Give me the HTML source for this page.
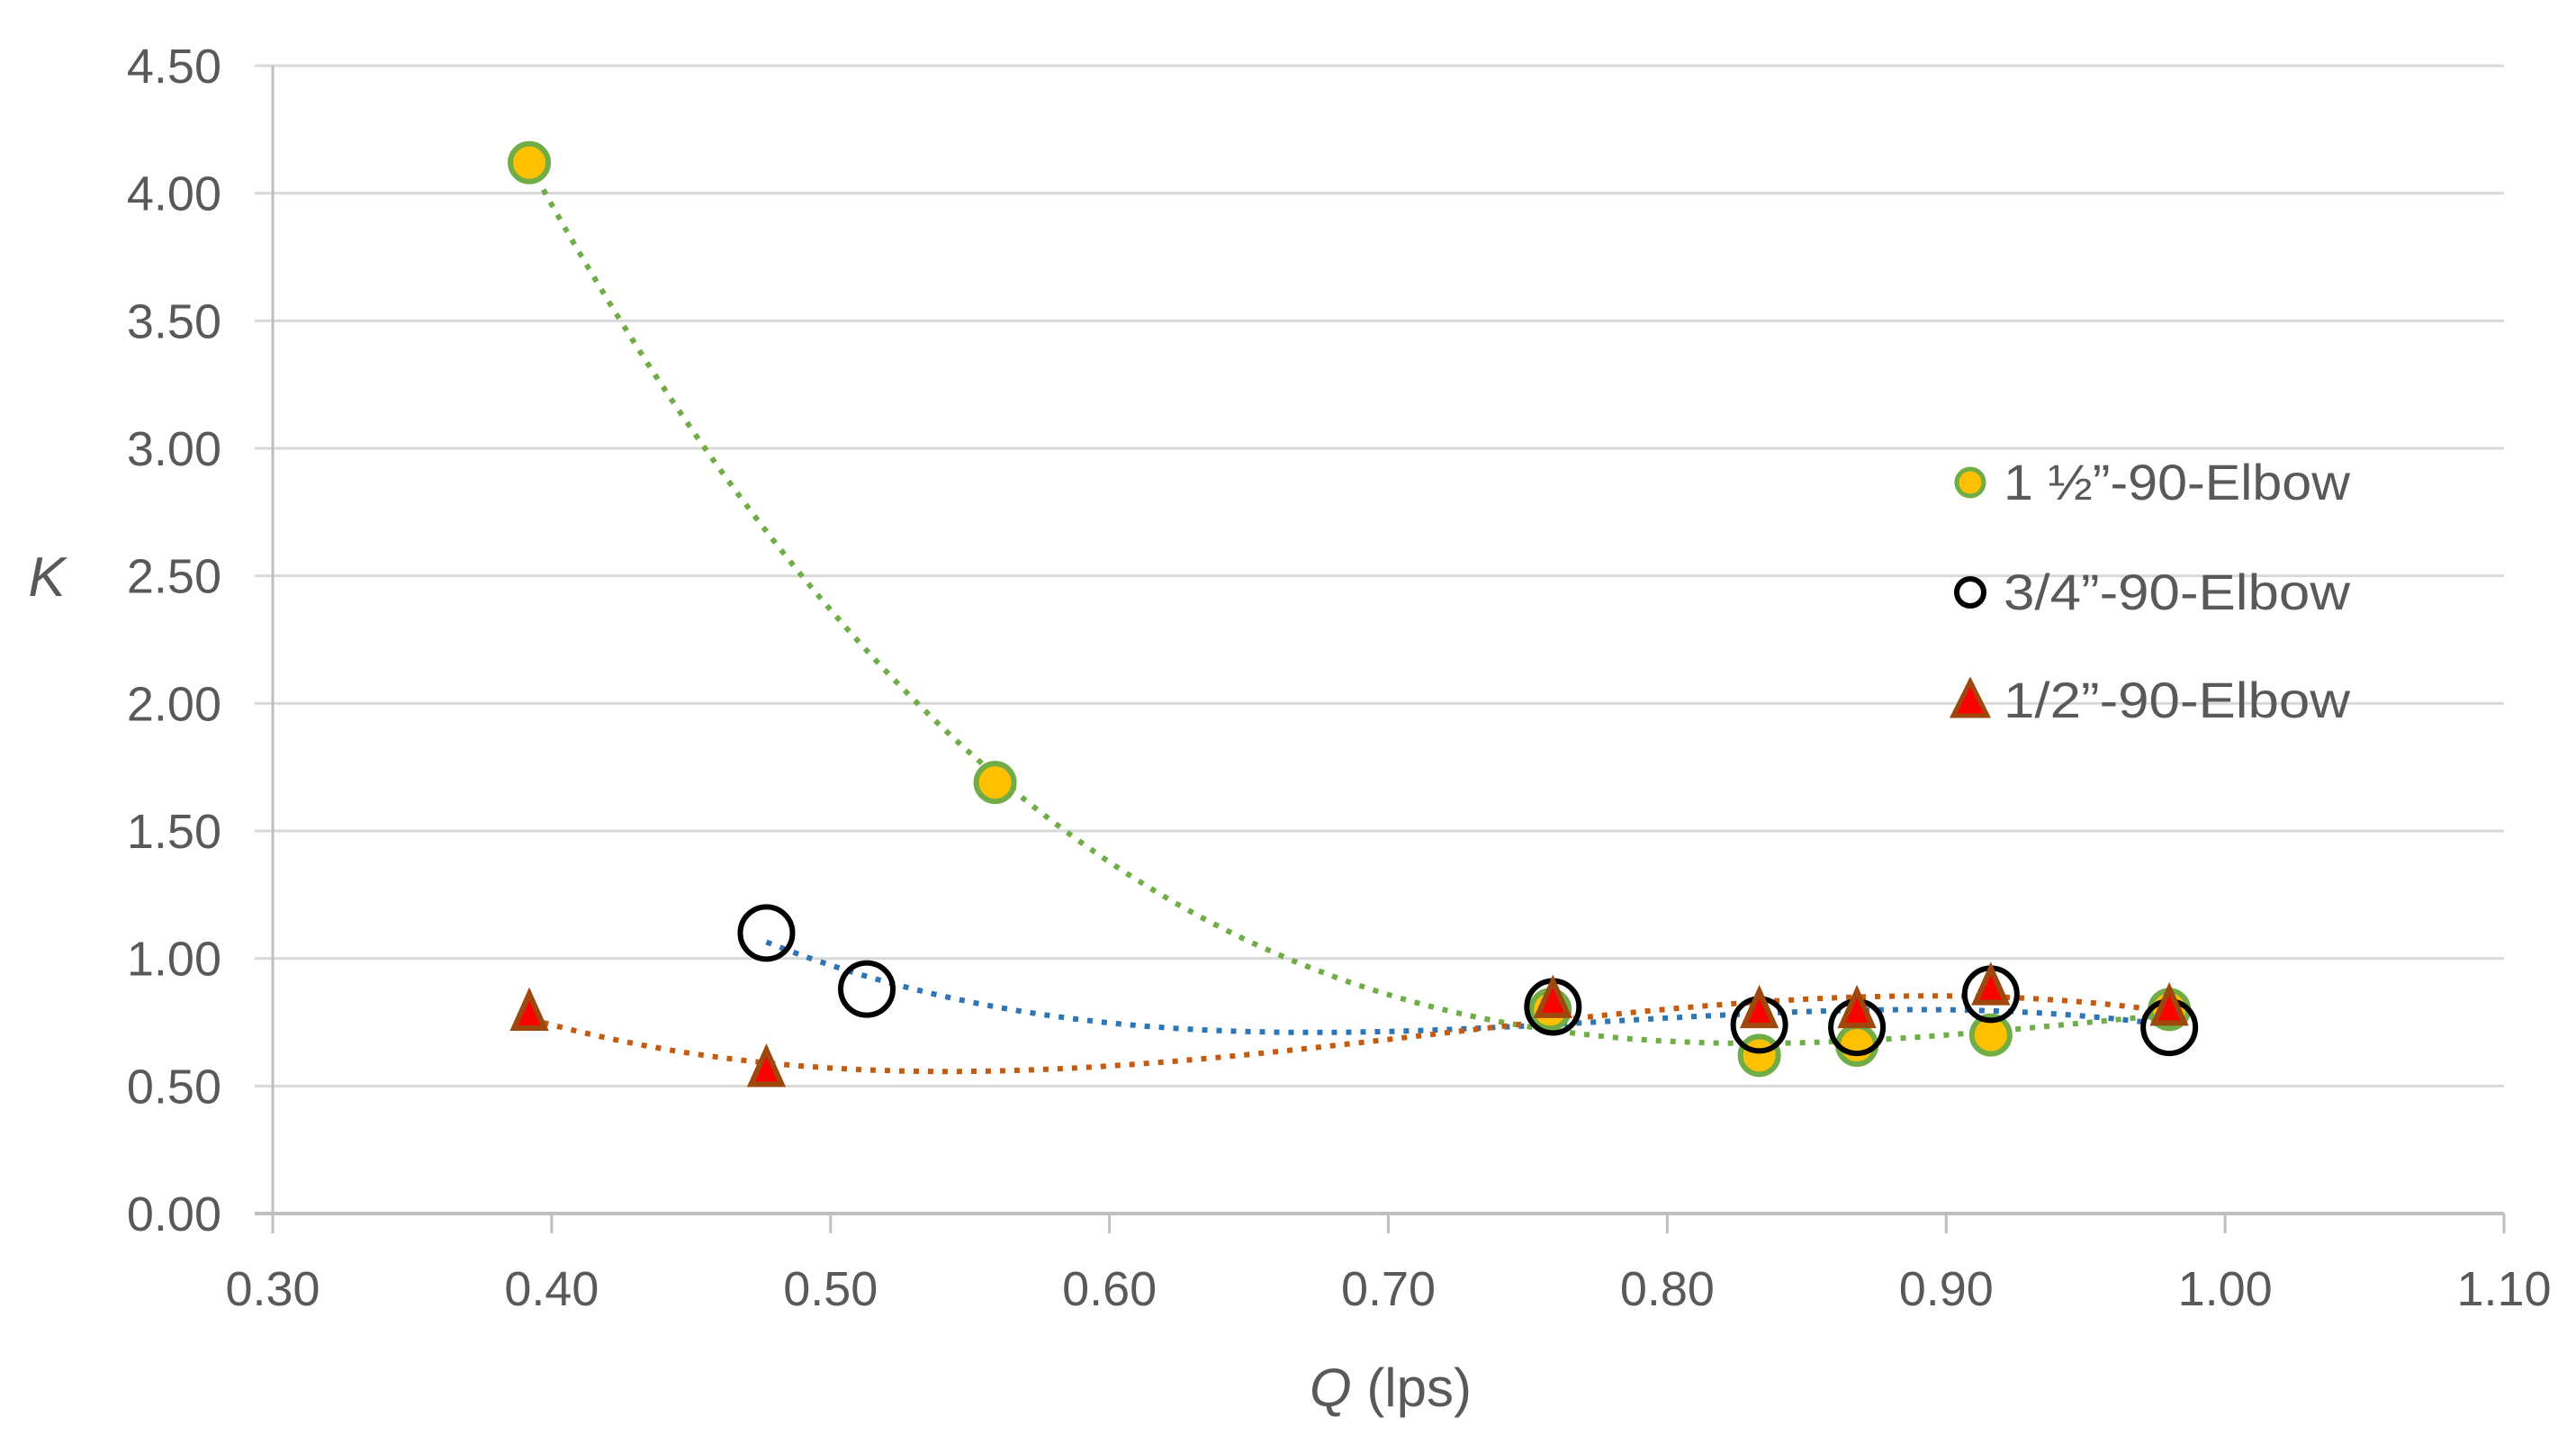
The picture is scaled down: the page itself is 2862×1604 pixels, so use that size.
<!DOCTYPE html>
<html><head><meta charset="utf-8"><style>
html,body{margin:0;padding:0;background:#fff;}
svg{display:block;font-family:"Liberation Sans",sans-serif;}
</style></head><body>
<svg id="chart" width="2862" height="1604" viewBox="0 0 2862 1604">
<g id="grid"></g>
<g id="axes"></g>
<g id="trends"></g>
<g id="marks"></g>
<text x="52" y="662" font-size="62" font-style="italic" fill="#595959" text-anchor="middle">K</text>
<text x="1545" y="1562" font-size="60" fill="#595959" text-anchor="middle"><tspan font-style="italic">Q</tspan> (lps)</text>
<g>
<g>
<circle cx="2189" cy="536" r="15" fill="#FFC000" stroke="#70AD47" stroke-width="5"/>
<text x="2226" y="555" font-size="56" fill="#595959" textLength="385" lengthAdjust="spacingAndGlyphs">1 ½”-90-Elbow</text></g>
<g>
<circle cx="2189" cy="658" r="15" fill="none" stroke="#000" stroke-width="6"/>
<text x="2226" y="677" font-size="56" fill="#595959" textLength="385" lengthAdjust="spacingAndGlyphs">3/4”-90-Elbow</text></g>
<g>
<polygon points="2189,757 2208,795 2170,795" fill="#FF0000" stroke="#9E480E" stroke-width="5" stroke-linejoin="miter"/>
<text x="2226" y="797" font-size="56" fill="#595959" textLength="385" lengthAdjust="spacingAndGlyphs">1/2”-90-Elbow</text></g>
</g>
</svg>
<script>
const xTicks=[0.30,0.40,0.50,0.60,0.70,0.80,0.90,1.00,1.10];
const yTicks=[0,0.5,1,1.5,2,2.5,3,3.5,4,4.5];
const qGreen=[0.392,0.559,0.758,0.833,0.868,0.916,0.980];
const kGreen=[4.12,1.69,0.80,0.62,0.66,0.70,0.80];
const qBlack=[0.477,0.513,0.759,0.833,0.868,0.916,0.980];
const kBlack=[1.10,0.88,0.81,0.74,0.73,0.86,0.73];
const qRed=[0.392,0.477,0.759,0.833,0.868,0.916,0.980];
const kRed=[0.78,0.56,0.83,0.79,0.79,0.88,0.80];
const NS="http://www.w3.org/2000/svg";
const X0=303,X1=2782,Y0=1348,Y1=73;
function xs(v){return X0+(v-0.3)/(1.1-0.3)*(X1-X0);}
function ys(v){return Y0-(v/4.5)*(Y0-Y1);}
function mk(tag,attrs,parent){const e=document.createElementNS(NS,tag);for(const k in attrs)e.setAttribute(k,attrs[k]);parent.appendChild(e);return e;}
const grid=document.getElementById('grid'),axes=document.getElementById('axes'),trends=document.getElementById('trends'),marks=document.getElementById('marks');
yTicks.forEach(t=>{
  if(t>0){const l=mk('line',{x1:X0-20,x2:X1,y1:ys(t),y2:ys(t),stroke:'#D9D9D9','stroke-width':3},grid);
  
  }
  const tx=mk('text',{x:246,y:ys(t)+19,'font-size':54,fill:'#595959','text-anchor':'end'},axes);
  tx.textContent=t.toFixed(2);
  
  
});
let a=mk('line',{x1:X0,x2:X0,y1:Y1,y2:Y0+22,stroke:'#BFBFBF','stroke-width':3},axes);


a=mk('line',{x1:X0-20,x2:X1,y1:Y0,y2:Y0,stroke:'#BFBFBF','stroke-width':4},axes);


xTicks.forEach(t=>{
  const l=mk('line',{x1:xs(t),x2:xs(t),y1:Y0,y2:Y0+22,stroke:'#BFBFBF','stroke-width':3},axes);
  
  
  const tx=mk('text',{x:xs(t),y:1450,'font-size':54,fill:'#595959','text-anchor':'middle'},axes);
  tx.textContent=t.toFixed(2);
  
  
});
function polyfit(xv,yv,deg){
  const n=deg+1,A=[],B=[];
  for(let i=0;i<n;i++){A.push(new Array(n).fill(0));B.push(0);}
  xv.forEach((x,k)=>{for(let i=0;i<n;i++){B[i]+=yv[k]*Math.pow(x,i);for(let j=0;j<n;j++)A[i][j]+=Math.pow(x,i+j);}});
  for(let i=0;i<n;i++){let p=i;for(let r=i+1;r<n;r++)if(Math.abs(A[r][i])>Math.abs(A[p][i]))p=r;
    [A[i],A[p]]=[A[p],A[i]];[B[i],B[p]]=[B[p],B[i]];
    for(let r=0;r<n;r++){if(r===i)continue;const f=A[r][i]/A[i][i];for(let c=i;c<n;c++)A[r][c]-=f*A[i][c];B[r]-=f*B[i];}}
  return B.map((b,i)=>b/A[i][i]);
}
function trend(xv,yv,color,name){
  const c=polyfit(xv,yv,3);const lo=Math.min(...xv),hi=Math.max(...xv);let d='';
  for(let i=0;i<=200;i++){const x=lo+(hi-lo)*i/200;let y=0;c.forEach((cc,k)=>y+=cc*Math.pow(x,k));d+=(i?'L':'M')+xs(x).toFixed(1)+','+ys(y).toFixed(1);}
  const p=mk('path',{d:d,fill:'none',stroke:color,'stroke-width':6,'stroke-dasharray':'6 10'},trends);
  
  
}
trend(qGreen,kGreen,'#70AD47','trendline-1-5in');
trend(qBlack,kBlack,'#2E75B6','trendline-3-4in');
trend(qRed,kRed,'#C55A11','trendline-1-2in');
qGreen.forEach((q,i)=>{const c=mk('circle',{cx:xs(q),cy:ys(kGreen[i]),r:21,fill:'#FFC000',stroke:'#70AD47','stroke-width':6},marks);
  
  });
qBlack.forEach((q,i)=>{const c=mk('circle',{cx:xs(q),cy:ys(kBlack[i]),r:29,fill:'none',stroke:'#000','stroke-width':6},marks);
  
  });
qRed.forEach((q,i)=>{const x=xs(q),y=ys(kRed[i]);
  const p=mk('polygon',{points:`${x},${y-23} ${x+17},${y+15} ${x-17},${y+15}`,fill:'#FF0000',stroke:'#9E480E','stroke-width':6},marks);
  
  });
</script>
</body></html>
